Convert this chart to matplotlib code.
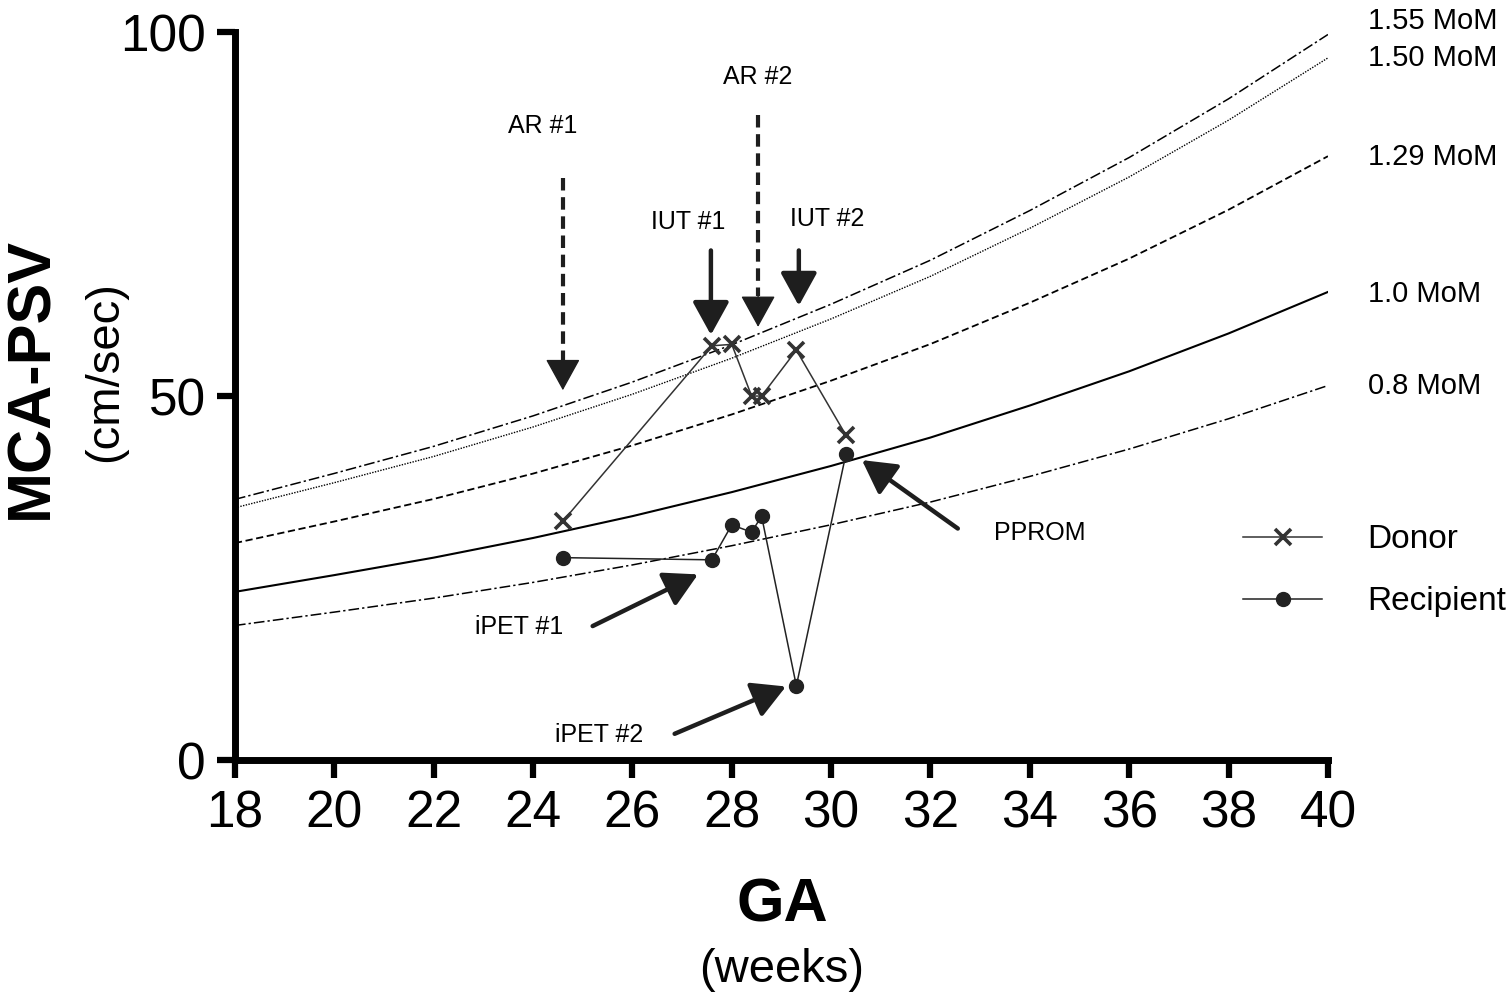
import numpy as np
import matplotlib
matplotlib.use("Agg")
import matplotlib.pyplot as plt

plt.rcParams['font.family'] = ['Liberation Sans', 'DejaVu Sans']

# Referenzkurve (Median MCA-PSV) an geraden Wochen
ga_ref = [18, 20, 22, 24, 26, 28, 30, 32, 34, 36, 38, 40]
median_psv = [23.1, 25.4, 27.8, 30.5, 33.5, 36.8, 40.4, 44.3, 48.7, 53.4, 58.6, 64.3]
mom_levels = [1.55, 1.50, 1.29, 1.0, 0.8]
mom_labels = ["1.55 MoM", "1.50 MoM", "1.29 MoM", "1.0 MoM", "0.8 MoM"]

# Messungen
ga_meas = [24.6, 27.6, 28.0, 28.4, 28.6, 29.3, 30.3]
donor = [32.8, 56.9, 57.1, 50.0, 50.0, 56.3, 44.6]
recipient = [27.8, 27.5, 32.3, 31.3, 33.5, 10.2, 42.1]

x_ticks = list(range(18, 41, 2))
y_ticks = [0, 50, 100]

ARROW_C = "#1e1e1e"
HEAD = "-|>,head_length=1.45,head_width=0.8"


def arrow(ax, tail, tip, dashed=False):
    # Pfeil mit grossem gefuelltem Kopf; gestrichelter Schaft optional
    if dashed:
        x = tip[0]
        ax.plot([tail[0], x], [tail[1], tip[1] + 4.2], color=ARROW_C,
                lw=3.0, dashes=(3.0, 1.6), solid_capstyle='butt', zorder=5)
        ax.annotate("", xy=tip, xytext=(x, tip[1] + 4.5),
                    arrowprops=dict(arrowstyle=HEAD, mutation_scale=14, lw=1.0,
                                    color=ARROW_C, shrinkA=0, shrinkB=0), zorder=5)
    else:
        ax.annotate("", xy=tip, xytext=tail,
                    arrowprops=dict(arrowstyle=HEAD, mutation_scale=14, lw=3.2,
                                    color=ARROW_C, shrinkA=0, shrinkB=0), zorder=5)


fig = plt.figure(figsize=(15.08, 10.02), dpi=100)
ax = fig.add_axes([0.1558, 0.2415, 0.7248, 0.7265])

# Referenzkurven
styles = [
    dict(dashes=(7, 2, 1.5, 2), lw=1.1),
    dict(dashes=(1, 1), lw=1.0),
    dict(dashes=(4, 2), lw=1.3),
    dict(linestyle='-', lw=1.5),
    dict(dashes=(7, 2, 1.5, 2), lw=1.1),
]
med = np.array(median_psv)
for level, st in zip(mom_levels, styles):
    ax.plot(ga_ref, med * level, color="black", **st)

ax.plot(ga_meas, donor, color="#333333", lw=1.1, marker='x', ms=11, mew=2.6,
        label="Donor", zorder=4)
ax.plot(ga_meas, recipient, color="#222222", lw=1.1, marker='o', ms=10,
        label="Recipient", zorder=4)

ax.set_xlim(18, 40)
ax.set_ylim(0, 100)
ax.set_xticks(x_ticks)
ax.set_yticks(y_ticks)
ax.tick_params(axis='both', labelsize=37, width=4.5, length=13, pad=8)
for side in ['top', 'right']:
    ax.spines[side].set_visible(False)
for side in ['left', 'bottom']:
    ax.spines[side].set_linewidth(5)

# Ereignis-Pfeile
arrow(ax, (24.6, 79.9), (24.6, 50.8), dashed=True)
arrow(ax, (28.53, 88.6), (28.53, 59.5), dashed=True)
arrow(ax, (27.58, 70.0), (27.58, 58.4))
arrow(ax, (29.35, 70.0), (29.35, 62.4))
arrow(ax, (32.55, 31.8), (30.62, 41.2))
arrow(ax, (25.2, 18.4), (27.32, 25.5))
arrow(ax, (26.85, 3.6), (29.09, 10.1))

notes = [("AR #1", 24.2, 87.1), ("AR #2", 28.53, 93.8), ("IUT #1", 27.12, 73.9),
         ("IUT #2", 29.92, 74.3), ("PPROM", 34.2, 31.2), ("iPET #1", 23.72, 18.3),
         ("iPET #2", 25.33, 3.4)]
for txt, x, y in notes:
    ax.text(x, y, txt, fontsize=18, ha='center', va='center')

# MoM-Beschriftung rechts
mom_y = [21, 58, 157, 294, 386]
for lab, py in zip(mom_labels, mom_y):
    fig.text(1368 / 1508, 1 - py / 1002, lab, fontsize=21, ha='left', va='center')

# Achsentitel
fig.text(32 / 1508, 1 - 378 / 1002, "MCA-PSV", fontsize=44, fontweight='bold',
         rotation=90, ha='center', va='center')
fig.text(105 / 1508, 1 - 372 / 1002, "(cm/sec)", fontsize=34,
         rotation=90, ha='center', va='center')
fig.text(782 / 1508, 1 - 906 / 1002, "GA", fontsize=44, fontweight='bold',
         ha='center', va='center')
fig.text(782 / 1508, 1 - 970 / 1002, "(weeks)", fontsize=34,
         ha='center', va='center')

ax.legend(loc='center left', bbox_to_anchor=(1213 / 1508, 1 - 571 / 1002),
          bbox_transform=fig.transFigure, frameon=False, fontsize=24,
          handlelength=2.37, handletextpad=1.35, labelspacing=0.93)

fig.savefig("out.png", dpi=100)
